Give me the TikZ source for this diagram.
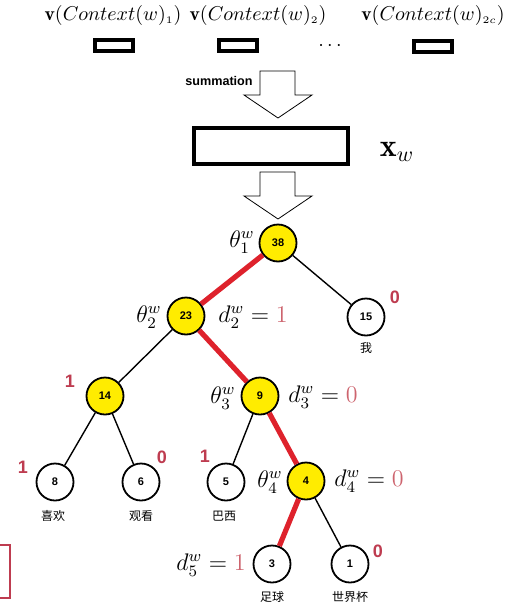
\documentclass[tikz,border=0pt]{standalone}
\usepackage{fontspec}
\newfontfamily\cjk{Noto Sans CJK SC}
\newfontfamily\labfont{Liberation Sans}
\definecolor{nodeyellow}{RGB}{255,236,0}
\definecolor{edgered}{RGB}{222,34,44}
\definecolor{bitred}{RGB}{190,60,80}
\definecolor{mathred}{RGB}{205,100,110}
\begin{document}
\begin{tikzpicture}[x=0.5pt,y=-0.5pt,
  tnode/.style={circle,draw,line width=0.9pt,minimum size=18.5pt,inner sep=0pt,fill=white,
    font=\labfont\bfseries\fontsize{5.5}{6}\selectfont},
  ynode/.style={tnode,fill=nodeyellow},
  redge/.style={line width=2.6pt,edgered},
  bedge/.style={line width=0.7pt},
  bit/.style={font=\labfont\bfseries\fontsize{9}{10}\selectfont,text=bitred},
  mlab/.style={font=\fontsize{12}{14}\selectfont,inner sep=0pt},
  toplab/.style={font=\fontsize{9.8}{11}\selectfont,inner sep=0pt},
  word/.style={font=\cjk\fontsize{6}{7}\selectfont,inner sep=0pt},
  smallrect/.style={draw,line width=2pt},
  blockarrow/.style={draw,line width=0.4pt,fill=white}]
\useasboundingbox (0,0) rectangle (510,616);

% top labels
\node[toplab] (l1) at (113,15) {$\mathbf{v}(Context(w)_{\scriptscriptstyle 1})$};
\node[toplab] (l2) at (258,15) {$\mathbf{v}(Context(w)_{\scriptscriptstyle 2})$};
\node[toplab] (l3) at (433,15) {$\mathbf{v}(Context(w)_{\scriptscriptstyle 2c})$};
\draw[smallrect] (95,40) rectangle (133,51);
\draw[smallrect] (219,40) rectangle (257,51);
\draw[smallrect] (414,41) rectangle (452,52);
\node[font=\fontsize{10}{12}\selectfont\bfseries] (dots) at (330,46) {$\cdots$};

% summation arrow
\draw[blockarrow] (260,71) -- (295,71) -- (295,95) -- (312,95) -- (278,118) -- (244,95) -- (260,95) -- cycle;
\node[font=\labfont\bfseries\fontsize{6.3}{7}\selectfont,inner sep=0pt] (sum) at (219,81) {summation};

% big rectangle
\draw[line width=1.6pt] (194,128) rectangle (348,164);
\node[font=\fontsize{16}{18}\selectfont,inner sep=0pt] (xw) at (397,152) {$\mathbf{x}_w$};

% second arrow
\draw[blockarrow] (260,172) -- (295,172) -- (295,196) -- (312,196) -- (278,219) -- (244,196) -- (260,196) -- cycle;

% tree nodes
\node[ynode] (n38) at (278,243) {38};
\node[ynode] (n23) at (186,316) {23};
\node[tnode] (n15) at (366,317) {15};
\node[ynode] (n14) at (105,396) {14};
\node[ynode] (n9) at (260,396) {9};
\node[tnode] (n8) at (55,482) {8};
\node[tnode] (n6) at (141,482) {6};
\node[tnode] (n5) at (226,482) {5};
\node[ynode] (n4) at (306,481) {4};
\node[tnode] (n3) at (272,564) {3};
\node[tnode] (n1) at (350,564) {1};

% edges
\draw[redge] (n38) -- (n23);
\draw[redge] (n23) -- (n9);
\draw[redge] (n9) -- (n4);
\draw[redge] (n4) -- (n3);
\draw[bedge] (n38) -- (n15);
\draw[bedge] (n23) -- (n14);
\draw[bedge] (n14) -- (n8);
\draw[bedge] (n14) -- (n6);
\draw[bedge] (n9) -- (n5);
\draw[bedge] (n4) -- (n1);

% words
\node[word] (w15) at (366,348) {我};
\node[word] (w8) at (53,516) {喜欢};
\node[word] (w6) at (141,516) {观看};
\node[word] (w5) at (224,516) {巴西};
\node[word] (w3) at (272,597) {足球};
\node[word] (w1) at (350,597) {世界杯};

% bits
\node[bit] (b15) at (395,297) {0};
\node[bit] (b14) at (70,381) {1};
\node[bit] (b8) at (23,467) {1};
\node[bit] (b6) at (162,457) {0};
\node[bit] (b5) at (205,456) {1};
\node[bit] (b1) at (378,551) {0};

% math labels
\node[mlab,anchor=east] (t1) at (255,242) {$\theta_1^w$};
\node[mlab,anchor=east] (t2) at (162,317) {$\theta_2^w$};
\node[mlab,anchor=west] (d2) at (218,317) {$d_2^w=\textcolor{mathred}{1}$};
\node[mlab,anchor=east] (t3) at (236,398) {$\theta_3^w$};
\node[mlab,anchor=west] (d3) at (288,397) {$d_3^w=\textcolor{mathred}{0}$};
\node[mlab,anchor=east] (t4) at (283,482) {$\theta_4^w$};
\node[mlab,anchor=west] (d4) at (334,481) {$d_4^w=\textcolor{mathred}{0}$};
\node[mlab,anchor=east] (d5) at (246,565) {$d_5^w=\textcolor{mathred}{1}$};

% partial red frame at left edge
\draw[bitred,line width=1.4pt] (0,545) -- (10,545) -- (10,598) -- (0,598);
\end{tikzpicture}
\end{document}
